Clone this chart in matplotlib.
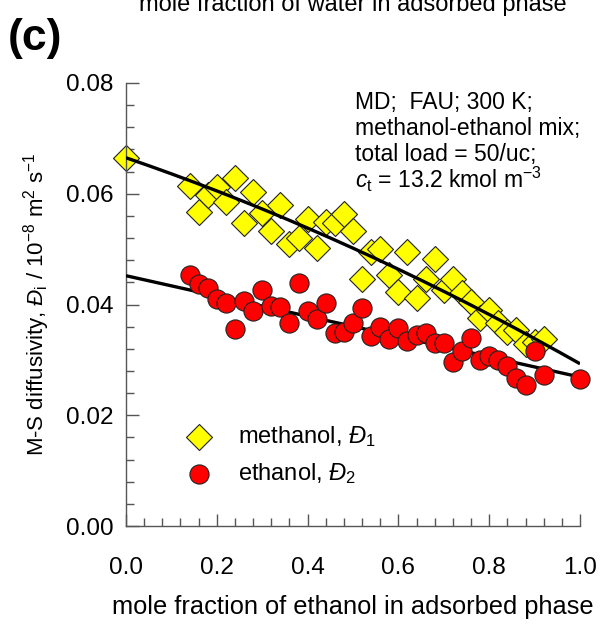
import numpy as np
import matplotlib
matplotlib.use("Agg")
import matplotlib.pyplot as plt
from matplotlib.ticker import MultipleLocator

plt.rcParams['font.family'] = ['Liberation Sans', 'DejaVu Sans']
plt.rcParams['mathtext.fontset'] = 'custom'
plt.rcParams['mathtext.rm'] = 'Liberation Sans'
plt.rcParams['mathtext.it'] = 'Liberation Sans:italic'
plt.rcParams['mathtext.bf'] = 'Liberation Sans:bold'

# MD data: M-S diffusivities in FAU, methanol-ethanol mixture, 300 K
x_methanol = [0.00, 0.14, 0.16, 0.18, 0.20, 0.22, 0.24, 0.26, 0.28, 0.30,
              0.32, 0.34, 0.36, 0.38, 0.40, 0.42, 0.44, 0.46, 0.48, 0.50,
              0.52, 0.54, 0.56, 0.58, 0.60, 0.62, 0.64, 0.66, 0.68, 0.70,
              0.72, 0.74, 0.76, 0.78, 0.80, 0.82, 0.84, 0.86, 0.88, 0.90,
              0.92]
D_methanol = [0.0665, 0.0614, 0.0567, 0.0598, 0.0612, 0.0585, 0.0628, 0.0547,
              0.0603, 0.0565, 0.0533, 0.0580, 0.0509, 0.0520, 0.0554, 0.0502,
              0.0549, 0.0547, 0.0563, 0.0533, 0.0446, 0.0495, 0.0500, 0.0453,
              0.0423, 0.0495, 0.0412, 0.0446, 0.0482, 0.0426, 0.0446, 0.0421,
              0.0404, 0.0376, 0.0390, 0.0367, 0.0350, 0.0354, 0.0329, 0.0333,
              0.0338]

x_ethanol = [0.14, 0.16, 0.18, 0.20, 0.22, 0.24, 0.26, 0.28, 0.30, 0.32,
             0.34, 0.36, 0.38, 0.40, 0.42, 0.44, 0.46, 0.48, 0.50, 0.52,
             0.54, 0.56, 0.58, 0.60, 0.62, 0.64, 0.66, 0.68, 0.70, 0.72,
             0.74, 0.76, 0.78, 0.80, 0.82, 0.84, 0.86, 0.88, 0.90, 0.92,
             1.00]
D_ethanol = [0.0453, 0.0437, 0.0430, 0.0410, 0.0403, 0.0356, 0.0406, 0.0388,
             0.0426, 0.0397, 0.0395, 0.0367, 0.0439, 0.0388, 0.0374, 0.0403,
             0.0349, 0.0350, 0.0367, 0.0394, 0.0343, 0.0359, 0.0338, 0.0358,
             0.0334, 0.0345, 0.0349, 0.0330, 0.0331, 0.0297, 0.0316, 0.0340,
             0.0300, 0.0307, 0.0300, 0.0289, 0.0267, 0.0255, 0.0316, 0.0273,
             0.0266]

# fitted trend curves, polynomial coefficients (highest power first)
fit_methanol = [-0.0091, -0.0281, 0.0665]
fit_ethanol = [-0.0183, 0.0452]

xticks = [0.0, 0.2, 0.4, 0.6, 0.8, 1.0]
yticks = [0.00, 0.02, 0.04, 0.06, 0.08]

FS = 17.5
FS_LABEL = 18.3

fig = plt.figure(figsize=(6.0, 6.24), dpi=100)
ax = fig.add_axes([0.21, 0.157, 0.7567, 0.71])

DIAMOND = dict(marker='D', s=175, facecolor='#ffff00', edgecolor='#222222',
               linewidth=0.8)
CIRCLE = dict(marker='o', s=190, facecolor='#ff0000', edgecolor='#222222',
              linewidth=0.8)

xf = np.linspace(0, 1, 200)
ax.scatter(x_methanol, D_methanol, zorder=2, clip_on=False, **DIAMOND)
ax.plot(xf, np.polyval(fit_methanol, xf), color='black', lw=2.4, zorder=3,
        solid_capstyle='butt')
ax.plot(xf, np.polyval(fit_ethanol, xf), color='black', lw=2.4, zorder=3,
        solid_capstyle='butt')
ax.scatter(x_ethanol, D_ethanol, zorder=4, clip_on=False, **CIRCLE)

ax.set_xlim(0, 1)
ax.set_ylim(0, 0.08)
ax.set_xticks(xticks)
ax.set_xticklabels([f"{v:.1f}" for v in xticks])
ax.set_yticks(yticks)
ax.set_yticklabels([f"{v:.2f}" for v in yticks])
ax.xaxis.set_minor_locator(MultipleLocator(0.04))
ax.yaxis.set_minor_locator(MultipleLocator(0.004))

for s in ('top', 'right'):
    ax.spines[s].set_visible(False)
for s in ('left', 'bottom'):
    ax.spines[s].set_color('#555555')
    ax.spines[s].set_linewidth(1.0)

ax.tick_params(which='both', direction='in', color='#555555', width=1.0,
               labelsize=FS)
ax.tick_params(which='major', length=9)
ax.tick_params(which='minor', length=6)
ax.tick_params(axis='x', which='major', pad=22)
ax.tick_params(axis='y', which='major', pad=9)

ax.set_xlabel("mole fraction of ethanol in adsorbed phase", fontsize=FS_LABEL,
              labelpad=12)
ax.set_ylabel(r"M-S diffusivity, $\mathit{Đ}_\mathrm{i}$ / 10$^{-8}$ m$^{2}$ s$^{-1}$",
              fontsize=16, labelpad=10)

# legend drawn by hand
ax.scatter([0.16], [0.0161], zorder=5, **DIAMOND)
ax.scatter([0.16], [0.0094], zorder=5, **CIRCLE)
ax.text(0.246, 0.0161, r"methanol, $\mathit{Đ}_1$", fontsize=17,
        va='center', ha='left')
ax.text(0.246, 0.0094, r"ethanol, $\mathit{Đ}_2$", fontsize=17,
        va='center', ha='left')

# simulation conditions
info = ["MD;  FAU; 300 K;", "methanol-ethanol mix;", "total load = 50/uc;",
        r"$\mathit{c}_\mathrm{t}$ = 13.2 kmol m$^{-3}$"]
base_px = [109, 135, 161, 188]
for line, b in zip(info, base_px):
    fig.text(355 / 600, 1 - b / 624, line, fontsize=16.5, ha='left',
             va='baseline')

fig.text(8 / 600, 1 - 50 / 624, "(c)", fontsize=32, fontweight='bold',
         ha='left', va='baseline')
fig.text(353 / 600, 1 - 11 / 624, "mole fraction of water in adsorbed phase",
         fontsize=17, ha='center', va='baseline')

fig.savefig("out.png", dpi=100)
